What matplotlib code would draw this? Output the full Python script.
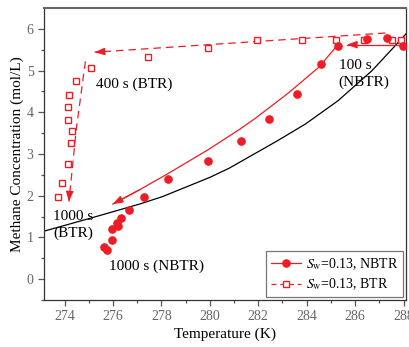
import matplotlib
matplotlib.use("Agg")
import matplotlib.pyplot as plt
from matplotlib.lines import Line2D

plt.rcParams["font.family"] = ["Liberation Serif", "DejaVu Serif"]
plt.rcParams["mathtext.fontset"] = "stix"

# =========================
# DATOS
# =========================
# Sw = 0.13, NBTR (circulos rellenos)
T_nbtr = [287.97, 287.31, 286.49, 285.28, 284.61, 283.58, 282.43, 281.29, 279.92,
          278.28, 277.27, 276.65, 276.31, 276.15, 276.19, 275.95, 275.95, 275.63, 275.77]
C_nbtr = [5.58, 5.78, 5.75, 5.58, 5.15, 4.45, 3.85, 3.32, 2.83,
          2.39, 1.98, 1.65, 1.46, 1.35, 1.28, 1.21, 0.94, 0.78, 0.71]

# Sw = 0.13, BTR (cuadrados vacios)
T_btr = [287.90, 287.52, 286.35, 285.23, 283.81, 281.96, 279.93, 277.45, 275.08,
         274.47, 274.19, 274.15, 274.16, 274.29, 274.27, 274.15, 273.90, 273.74]
C_btr = [5.74, 5.74, 5.74, 5.74, 5.74, 5.73, 5.55, 5.33, 5.05,
         4.74, 4.42, 4.12, 3.82, 3.54, 3.26, 2.76, 2.31, 1.97]

# curva negra (equilibrio)
T_eq = [273.15, 275.0, 277.1, 278.05, 280.0, 280.8, 282.8, 283.95, 285.3, 286.7, 287.95, 288.1]
C_eq = [1.15, 1.45, 1.80, 1.98, 2.44, 2.66, 3.32, 3.72, 4.28, 5.00, 5.78, 5.88]

# trayectoria NBTR (roja continua, flecha al final)
T_camino_nbtr = [285.23, 284.5, 283.26, 281.89, 281.2, 279.92, 278.24, 277.09, 275.99]
C_camino_nbtr = [5.58, 5.08, 4.47, 3.86, 3.58, 3.10, 2.52, 2.14, 1.80]

# trayectoria BTR (roja discontinua)
T_camino_btr_h = [287.25, 275.24]
C_camino_btr_h = [5.90, 5.44]
T_camino_btr_v = [274.86, 274.48, 274.18]
C_camino_btr_v = [5.22, 3.58, 1.86]

# flecha corta arriba a la derecha
T_flecha = [288.1, 285.66]
C_flecha = [5.62, 5.62]

ROJO = "#ee1c25"
GRIS = "#555555"
PUNTA = dict(arrowstyle="-|>,head_length=0.6,head_width=0.22",
             color=ROJO, lw=0.9, shrinkA=0, shrinkB=0)

fig = plt.figure(figsize=(4.09, 3.47), dpi=100)
ax = fig.add_axes([0.1076, 0.1354, 0.885, 0.8416])

# curva de equilibrio
ax.plot(T_eq, C_eq, color="black", lw=0.9, zorder=2)

# trayectorias con flecha
ax.plot(T_camino_nbtr, C_camino_nbtr, color=ROJO, lw=0.9, zorder=2)
ax.annotate("", xy=(T_camino_nbtr[-1], C_camino_nbtr[-1]),
            xytext=(T_camino_nbtr[-2], C_camino_nbtr[-2]), arrowprops=PUNTA)

ax.plot(T_camino_btr_h, C_camino_btr_h, color=ROJO, lw=0.9, dashes=(6, 4), zorder=2)
ax.annotate("", xy=(T_camino_btr_h[-1], C_camino_btr_h[-1]),
            xytext=(T_camino_btr_h[-1] + 0.3, C_camino_btr_h[-1] + 0.0115), arrowprops=PUNTA)

ax.plot(T_camino_btr_v, C_camino_btr_v, color=ROJO, lw=0.9, dashes=(6, 4), zorder=2)
ax.annotate("", xy=(T_camino_btr_v[-1], C_camino_btr_v[-1]),
            xytext=(T_camino_btr_v[-1] + 0.03, C_camino_btr_v[-1] + 0.25), arrowprops=PUNTA)

ax.plot(T_flecha, C_flecha, color=ROJO, lw=0.9, zorder=2)
ax.annotate("", xy=(T_flecha[-1], C_flecha[-1]), xytext=(T_flecha[-1] + 0.3, C_flecha[-1]),
            arrowprops=PUNTA)

# puntos
ax.plot(T_btr, C_btr, ls="none", marker="s", ms=4.2, mfc="white", mec=ROJO, mew=1.0, zorder=4)
ax.plot(T_nbtr, C_nbtr, ls="none", marker="o", ms=5.2, color=ROJO, zorder=5)

# textos
ax.text(275.3, 4.68, "400 s (BTR)", fontsize=11, va="center", ha="left")
ax.text(285.32, 4.91, "100 s\n(NBTR)", fontsize=11, va="center", ha="left", linespacing=1.35)
ax.text(273.52, 1.30, "1000 s\n(BTR)", fontsize=11, va="center", ha="left", linespacing=1.35)
ax.text(275.82, 0.30, "1000 s (NBTR)", fontsize=11, va="center", ha="left")

# ejes
ax.set_xlim(273.15, 288.1)
ax.set_ylim(-0.5, 6.5)
ax.set_xticks([274, 276, 278, 280, 282, 284, 286, 288])
ax.set_xticks([275, 277, 279, 281, 283, 285, 287], minor=True)
ax.set_yticks([0, 1, 2, 3, 4, 5, 6])
ax.set_yticks([-0.5, 0.5, 1.5, 2.5, 3.5, 4.5, 5.5], minor=True)
ax.tick_params(which="major", direction="out", length=4, width=0.9, color=GRIS,
               labelsize=10, labelcolor="#666666")
ax.tick_params(which="minor", direction="out", length=2.5, width=0.9, color=GRIS)
for lado in ["left", "bottom", "right"]:
    ax.spines[lado].set_color("#333333")
    ax.spines[lado].set_linewidth(0.9)
ax.spines["top"].set_color("#666666")
ax.spines["top"].set_linewidth(1.5)

ax.set_xlabel("Temperature (K)", fontsize=11, labelpad=3)
ax.set_ylabel("Methane Concentration (mol/L)", fontsize=11, labelpad=2)

# leyenda
manijas = [
    Line2D([], [], color=ROJO, lw=0.9, marker="o", ms=5.2),
    Line2D([], [], color=ROJO, lw=0.9, dashes=(4, 3), marker="s", ms=4.2, mfc="white", mew=1.0),
]
etiquetas = [r"$S_\mathrm{w}$=0.13, NBTR", r"$S_\mathrm{w}$=0.13, BTR"]
leg = ax.legend(manijas, etiquetas, loc="lower right", fontsize=10, frameon=True,
                fancybox=False, edgecolor="#555555", handlelength=2.2, handletextpad=0.3,
                labelspacing=0.35, borderpad=0.35, borderaxespad=0.2)
leg.get_frame().set_linewidth(0.9)

fig.savefig("out.png", dpi=100)
